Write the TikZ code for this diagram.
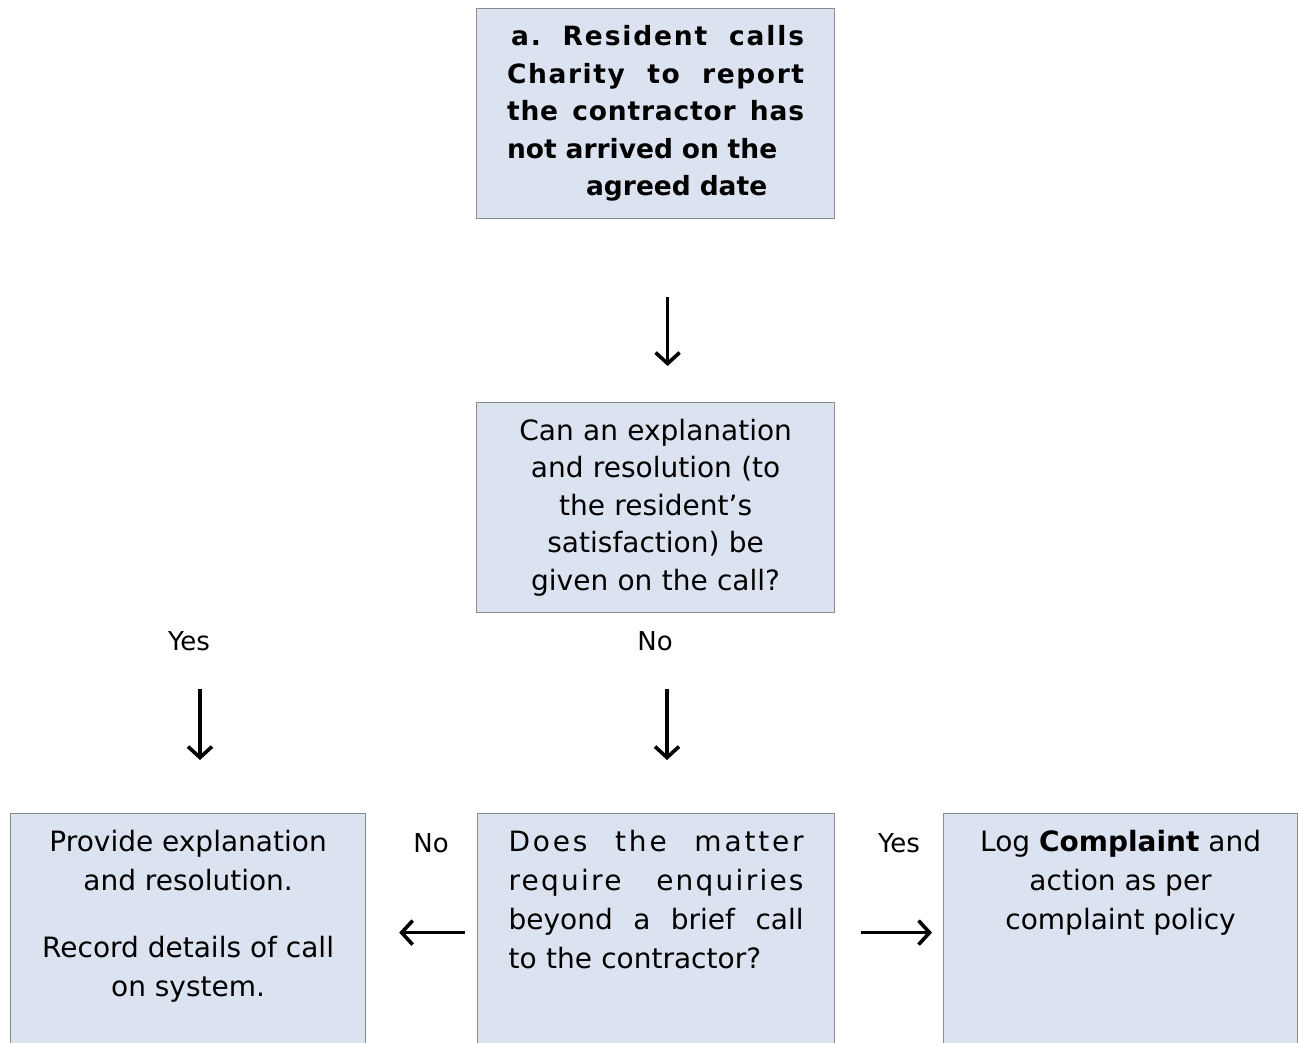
\documentclass[tikz,border=0pt]{standalone}
\usepackage{fontspec}
\setmainfont{DejaVu Sans}
\usetikzlibrary{positioning, arrows.meta}
\definecolor{boxfill}{RGB}{220,227,240}
\definecolor{boxline}{RGB}{140,140,140}
\newcommand{\fullline}[2]{\makebox[#1][l]{#2}}
\tikzset{
    stepbox/.style={
        rectangle,
        draw=boxline, % grey frame
        fill=boxfill, % pale blue
        line width=1.2pt,
        minimum width=357pt,
        inner sep=0,
        anchor=north west
    },
    boxtext/.style={
        align=center,
        inner sep=0,
        font=\fontsize{28}{39}\selectfont
    },
    answer/.style={
        inner sep=0,
        font=\fontsize{26}{30}\selectfont
    },
    flowarrow/.style={
        -{Straight Barb[length=11pt,width=24pt]},
        line width=3.6pt
    }
}

\begin{document}
\begin{tikzpicture}[x=1pt, y=-1pt]
    \clip (0,0) rectangle (1299,1042);
    \fill[white] (0,0) rectangle (1299,1042);

    % first step
    \node[stepbox, minimum height=210pt, text width=297pt, inner xsep=30.5pt,
          align=left, font=\bfseries\fontsize{26.5}{37.5}\selectfont] (report) at (476,8) {
        \hspace*{4pt}\fullline{293pt}{\addfontfeature{LetterSpace=7}a.\hfill Resident\hfill calls}\\
        \fullline{297pt}{\addfontfeature{LetterSpace=6}Charity\hfill to\hfill report}\\
        \fullline{297pt}{\addfontfeature{LetterSpace=3}the\hfill contractor\hfill has}\\
        not arrived on the\\
        \hspace*{79pt}agreed date};

    % question on the call
    \node[stepbox, minimum height=210pt, text width=297pt, inner xsep=30.5pt,
          align=center, font=\fontsize{28}{37.5}\selectfont] (explain) at (476,402) {
        Can an explanation\\
        and resolution (to\\
        the resident’s\\
        satisfaction) be\\
        given on the call?};

    % bottom row
    \node[stepbox, minimum width=355pt, minimum height=238pt] (provide) at (10,813) {};
    \node[stepbox, minimum width=357pt, minimum height=238pt] (matter) at (477,813) {};
    \node[stepbox, minimum width=354pt, minimum height=238pt] (complaint) at (943,813) {};

    \node[boxtext, below=17pt of provide.north] (providetext) {
        Provide explanation\\
        and resolution.\\[28pt]
        Record details of call\\
        on system.};
    \node[boxtext, align=left, text width=295pt, below=17pt of matter.north] (mattertext) {
        \fullline{295pt}{\addfontfeature{LetterSpace=10}Does\hfill the\hfill matter}\\
        \fullline{295pt}{\addfontfeature{LetterSpace=8}require\hfill enquiries}\\
        \fullline{295pt}{beyond\hfill a\hfill brief\hfill call}\\
        to the contractor?};
    \node[boxtext, below=17pt of complaint.north] (complainttext) {
        Log \textbf{Complaint} and\\
        action as per\\
        complaint policy};

    % answers
    \node[answer] (yesleft) at (189,641) {Yes};
    \node[answer] (nomid) at (655,641) {No};
    \node[answer] (noleft) at (431,843) {No};
    \node[answer] (yesright) at (899,843) {Yes};

    % arrows
    \draw[flowarrow, shorten <=78pt, shorten >=36pt] ([xshift=12pt]report.south) -- ([xshift=12pt]explain.north);
    \draw[flowarrow, shorten <=38pt, shorten >=53pt] ([xshift=11pt]yesleft.south) -- ([xshift=11pt]yesleft.south |- provide.north);
    \draw[flowarrow, shorten <=38pt, shorten >=53pt] ([xshift=12pt]nomid.south) -- ([xshift=12pt]nomid.south |- matter.north);
    \draw[flowarrow, shorten <=12pt, shorten >=33pt] (matter.west) -- (provide.east);
    \draw[flowarrow, shorten <=26pt, shorten >=11pt] (matter.east) -- (complaint.west);
\end{tikzpicture}
\end{document}
